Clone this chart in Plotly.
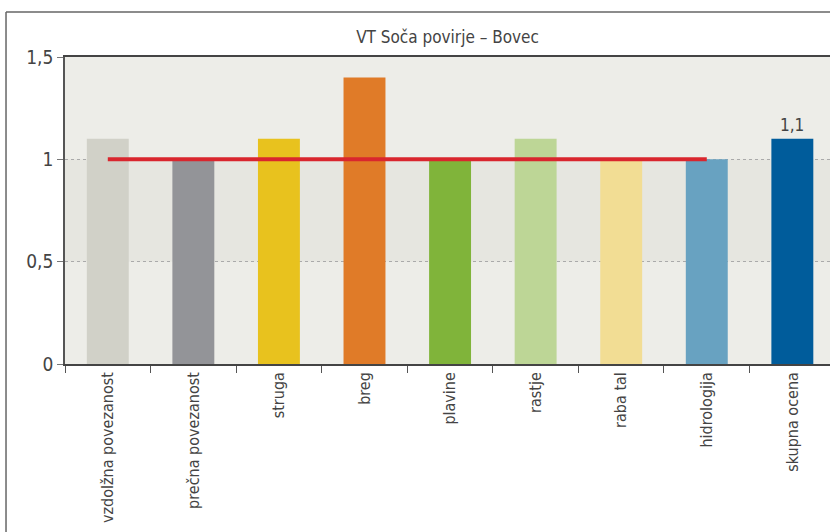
import plotly.graph_objects as go

categories = ["vzdolžna povezanost", "prečna povezanost", "struga", "breg",
              "plavine", "rastje", "raba tal", "hidrologija", "skupna ocena"]
values = [1.1, 1.0, 1.1, 1.4, 1.0, 1.1, 1.0, 1.0, 1.1]
colors = ["#D1D1C8", "#939498", "#E8C21E", "#E07B28", "#80B43A",
          "#BDD696", "#F2DD94", "#68A2C1", "#005C9B"]
reference_level = 1.0
reference_span = categories[:8]
y_ticks = [0, 0.5, 1, 1.5]
y_tick_text = ["0", "0,5", "1", "1,5"]
title = "VT Soča povirje – Bovec"

FONT = "Liberation Sans Narrow, DejaVu Sans Condensed, Arial Narrow, sans-serif"
TEXT = "#444444"

fig = go.Figure()

fig.add_trace(go.Bar(
    x=categories, y=values, marker=dict(color=colors, line=dict(width=0)),
    width=0.49, showlegend=False, hoverinfo="x+y",
))

fig.add_trace(go.Scatter(
    x=reference_span, y=[reference_level] * len(reference_span),
    mode="lines", line=dict(color="#D9262E", width=4), showlegend=False,
))

# value label above the overall score bar
fig.add_annotation(
    x=categories[-1], y=values[-1], text=f"{values[-1]:.1f}".replace(".", ","),
    showarrow=False, yanchor="bottom", yshift=2,
    font=dict(family=FONT, size=17, color=TEXT),
)

# shaded band between 0.5 and 1
fig.add_shape(type="rect", xref="paper", yref="y", x0=0, x1=1, y0=0.5, y1=1.0,
              fillcolor="#E6E6E0", line=dict(width=0), layer="below")

# outer frame (top and left edges)
frame = dict(color="#666666", width=1.5)
fig.add_shape(type="line", xref="paper", yref="paper",
              x0=-0.0771, x1=1.05, y0=1.1466, y1=1.1466, line=frame)
fig.add_shape(type="line", xref="paper", yref="paper",
              x0=-0.0771, x1=-0.0771, y0=1.1466, y1=-0.6, line=frame)

fig.update_layout(
    width=830, height=532,
    margin=dict(l=65, r=0, t=57, b=168),
    paper_bgcolor="white", plot_bgcolor="#EDEDE8",
    font=dict(family=FONT, color=TEXT),
    title=dict(text=title, x=0.5, xref="paper", y=1 - 37 / 532, yanchor="middle",
               font=dict(family=FONT, size=17, color=TEXT)),
    bargap=0.5,
)

fig.update_xaxes(
    range=[-0.5, 8.44], showgrid=False, tickangle=-90, automargin=False,
    tickson="boundaries", ticks="outside", ticklen=7, tickcolor="#555555",
    showline=True, linecolor="#444444", linewidth=1.5, mirror=True,
    tickfont=dict(family=FONT, size=16, color=TEXT),
)

fig.update_yaxes(
    range=[0, 1.5], tickvals=y_ticks, ticktext=y_tick_text, automargin=False,
    ticks="outside", ticklen=6, tickcolor="#777777",
    showline=True, linecolor="#555555", linewidth=1.5,
    showgrid=True, gridcolor="#AAAAAA", griddash="dot", gridwidth=1,
    zeroline=False,
    tickfont=dict(family=FONT, size=19, color=TEXT),
)

fig.write_html("out.html")
